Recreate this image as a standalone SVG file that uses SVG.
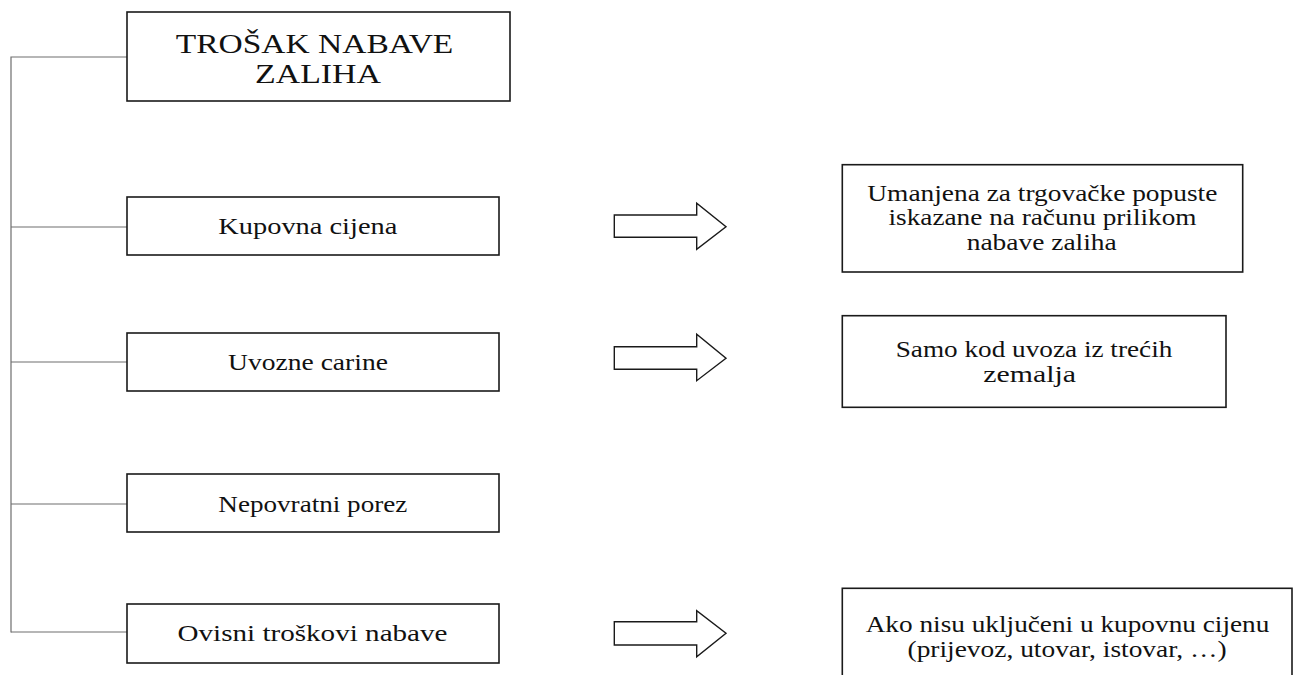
<svg xmlns="http://www.w3.org/2000/svg" width="1298" height="675" viewBox="0 0 1298 675">
<style>
.box{fill:#fff;stroke:#1a1a1a;stroke-width:1.6}
.arr{fill:#fff;stroke:#1a1a1a;stroke-width:1.4;stroke-linejoin:miter}
.con{fill:none;stroke:#6e6e6e;stroke-width:1.2}
.t{font-family:"Liberation Serif","Times New Roman",serif;font-size:23px;fill:#111;text-anchor:middle}
.h{font-family:"Liberation Serif","Times New Roman",serif;font-size:27px;fill:#111;text-anchor:middle}
</style>
<rect width="1298" height="675" fill="#fff"/>
<g id="connectors">
<path class="con" d="M127 57H11V632.5"/>
<path class="con" d="M11 227H127"/>
<path class="con" d="M11 362H127"/>
<path class="con" d="M11 504H127"/>
<path class="con" d="M11 632H127"/>
<path id="arrow1" class="arr" d="M614.3 215H696.7V203.3L726 226.7L696.7 249.3V237.3H614.3Z"/>
<path id="arrow2" class="arr" d="M614.3 346.7H696.7V334.3L726 358.3L696.7 380.7V369.3H614.3Z"/>
<path id="arrow3" class="arr" d="M614.3 621.7H696.7V610.7L726 633.3L696.7 656.7V645H614.3Z"/>
</g>
<g id="root">
<rect class="box" x="127" y="12" width="383" height="89"/>
<g transform="translate(314.5 52.7) scale(1.22 1)"><text class="h" x="0" y="0" textLength="227.6" lengthAdjust="spacingAndGlyphs">TROŠAK NABAVE</text></g>
<g transform="translate(318 83.3) scale(1.22 1)"><text class="h" x="0" y="0" textLength="103.3" lengthAdjust="spacingAndGlyphs">ZALIHA</text></g>
</g>
<g id="kupovna">
<rect class="box" x="127" y="197" width="372" height="58"/>
<g transform="translate(307.8 234) scale(1.22 1)"><text class="t" x="0" y="0" textLength="146.7" lengthAdjust="spacingAndGlyphs">Kupovna cijena</text></g>
</g>
<g id="uvozne">
<rect class="box" x="127" y="333" width="372" height="58"/>
<g transform="translate(308 369.5) scale(1.22 1)"><text class="t" x="0" y="0" textLength="131" lengthAdjust="spacingAndGlyphs">Uvozne carine</text></g>
</g>
<g id="nepovratni">
<rect class="box" x="127" y="474" width="372" height="58"/>
<g transform="translate(312.8 511.5) scale(1.22 1)"><text class="t" x="0" y="0" textLength="154.9" lengthAdjust="spacingAndGlyphs">Nepovratni porez</text></g>
</g>
<g id="ovisni">
<rect class="box" x="127" y="604" width="372" height="59"/>
<g transform="translate(312.5 641) scale(1.22 1)"><text class="t" x="0" y="0" textLength="221.3" lengthAdjust="spacingAndGlyphs">Ovisni troškovi nabave</text></g>
</g>
<g id="note1">
<rect class="box" x="842.3" y="164.7" width="400.4" height="107.3"/>
<g transform="translate(1042.3 200.7) scale(1.22 1)"><text class="t" x="0" y="0" textLength="286.9" lengthAdjust="spacingAndGlyphs">Umanjena za trgovačke popuste</text></g>
<g transform="translate(1042.5 225.3) scale(1.22 1)"><text class="t" x="0" y="0" textLength="252.5" lengthAdjust="spacingAndGlyphs">iskazane na računu prilikom</text></g>
<g transform="translate(1041.7 250) scale(1.22 1)"><text class="t" x="0" y="0" textLength="123" lengthAdjust="spacingAndGlyphs">nabave zaliha</text></g>
</g>
<g id="note2">
<rect class="box" x="842.3" y="315.7" width="383.7" height="91.6"/>
<g transform="translate(1034 356.7) scale(1.22 1)"><text class="t" x="0" y="0" textLength="226.8" lengthAdjust="spacingAndGlyphs">Samo kod uvoza iz trećih</text></g>
<g transform="translate(1029.7 381.7) scale(1.22 1)"><text class="t" x="0" y="0" textLength="76" lengthAdjust="spacingAndGlyphs">zemalja</text></g>
</g>
<g id="note3">
<rect class="box" x="842.3" y="588.3" width="449.7" height="120"/>
<g transform="translate(1067.5 631.7) scale(1.22 1)"><text class="t" x="0" y="0" textLength="330.9" lengthAdjust="spacingAndGlyphs">Ako nisu uključeni u kupovnu cijenu</text></g>
<g transform="translate(1067 656.7) scale(1.22 1)"><text class="t" x="0" y="0" textLength="261.5" lengthAdjust="spacingAndGlyphs">(prijevoz, utovar, istovar, …)</text></g>
</g>
</svg>
